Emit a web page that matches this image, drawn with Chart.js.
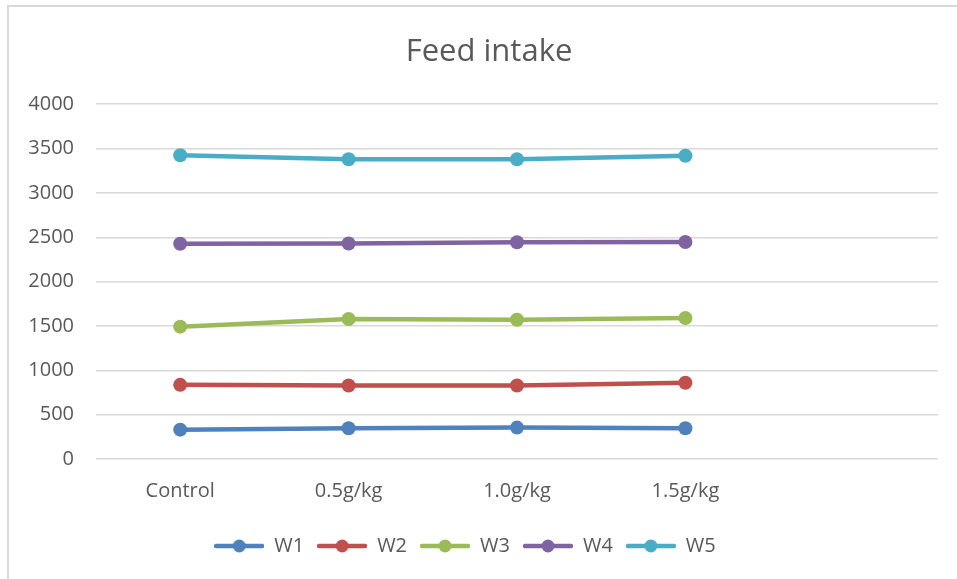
<!DOCTYPE html>
<html lang="en">
<head>
  <meta charset="UTF-8">
  <title>Feed intake</title>
  <script src="https://cdn.jsdelivr.net/npm/chart.js"></script>
  <style>
    body {
      margin: 0;
      padding: 0;
      background: #fff;
      overflow: hidden;
    }
    #frame {
      position: absolute;
      left: 7px;
      top: 5px;
      width: 970px;
      height: 590px;
      border-left: 2px solid #d9d9d9;
      border-top: 2px solid #d9d9d9;
    }
    #chart {
      position: absolute;
      left: 0;
      top: 0;
    }
  </style>
</head>
<body>

<div id="frame"></div>
<canvas id="chart" width="957" height="579"></canvas>

<script>
  const categories = ["Control", "0.5g/kg", "1.0g/kg", "1.5g/kg", ""];
  const seriesNames = ["W1", "W2", "W3", "W4", "W5"];
  const w1 = [331, 347, 354, 347];
  const w2 = [836, 828, 828, 859];
  const w3 = [1492, 1578, 1570, 1590];
  const w4 = [2427, 2430, 2444, 2446];
  const w5 = [3424, 3380, 3380, 3418];
  const colors = ["#4f81bd", "#c0504d", "#9bbb59", "#8064a2", "#4bacc6"];
  const yTicks = [0, 500, 1000, 1500, 2000, 2500, 3000, 3500, 4000];

  const textColor = "#595959";
  const fontFamily = "'Open Sans', 'Noto Sans', sans-serif";

  // legend marker: short line with a dot in the middle
  function legendMarker(color) {
    const c = document.createElement("canvas");
    c.width = 50;
    c.height = 16;
    const g = c.getContext("2d");
    g.strokeStyle = color;
    g.lineWidth = 4.5;
    g.lineCap = "round";
    g.beginPath();
    g.moveTo(2, 8);
    g.lineTo(48, 8);
    g.stroke();
    g.fillStyle = color;
    g.beginPath();
    g.arc(25, 8, 6.5, 0, Math.PI * 2);
    g.fill();
    return c;
  }

  // the title sits a bit right of the canvas centre, the legend a bit left
  const shiftBoxes = {
    id: "shiftBoxes",
    afterLayout(chart) {
      chart.titleBlock.left = 40;
      chart.legend.right = 930;
    }
  };

  const allSeries = [w1, w2, w3, w4, w5];
  const datasets = allSeries.map((vals, i) => ({
    label: seriesNames[i],
    data: vals,
    borderColor: colors[i],
    backgroundColor: colors[i],
    borderWidth: 4.5,
    pointRadius: 7,
    pointHoverRadius: 7,
    pointBorderWidth: 0,
    tension: 0,
    fill: false
  }));

  new Chart(document.getElementById("chart"), {
    type: "line",
    data: { labels: categories, datasets: datasets },
    plugins: [shiftBoxes],
    options: {
      responsive: false,
      animation: false,
      layout: { padding: { left: 0, right: 19, top: 0, bottom: 13 } },
      plugins: {
        tooltip: { enabled: false },
        title: {
          display: true,
          text: "Feed intake",
          color: textColor,
          font: { family: fontFamily, size: 31, weight: "normal" },
          padding: { top: 34, bottom: 33 }
        },
        legend: {
          position: "bottom",
          labels: {
            color: textColor,
            font: { family: fontFamily, size: 20 },
            usePointStyle: true,
            pointStyleWidth: 50,
            padding: 13,
            generateLabels: (chart) => chart.data.datasets.map((ds, i) => ({
              text: ds.label,
              fontColor: textColor,
              pointStyle: legendMarker(colors[i]),
              datasetIndex: i,
              hidden: false,
              lineWidth: 0
            }))
          }
        }
      },
      scales: {
        x: {
          offset: true,
          grid: { display: false },
          border: { display: false },
          ticks: {
            color: textColor,
            font: { family: fontFamily, size: 20 },
            padding: 12,
            maxRotation: 0,
            autoSkip: false
          },
          afterFit: (scale) => { scale.height = 64; }
        },
        y: {
          min: 0,
          max: 4000,
          afterBuildTicks: (scale) => { scale.ticks = yTicks.map(v => ({ value: v })); },
          grid: { color: "#d9d9d9", lineWidth: 1.5, drawTicks: false },
          border: { display: false },
          ticks: {
            color: textColor,
            font: { family: fontFamily, size: 20 },
            padding: 22,
            callback: (v) => String(v)
          },
          afterFit: (scale) => { scale.width = 96; }
        }
      }
    }
  });
</script>

</body>
</html>
